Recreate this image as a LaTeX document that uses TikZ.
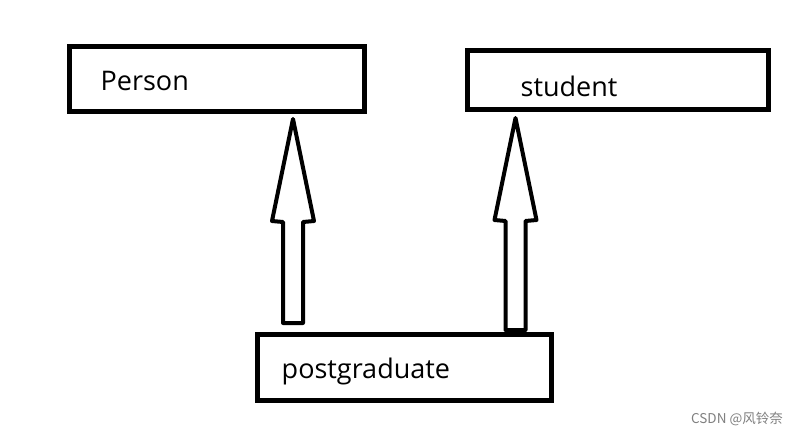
\documentclass[tikz,border=0pt]{standalone}
\usepackage{fontspec}
\setmainfont{Open Sans}
\newfontfamily\cjk{Noto Sans CJK SC}
\usetikzlibrary{calc}
\tikzset{
  box/.style={draw=black, line width=5pt, rectangle, inner sep=0pt},
  lbl/.style={inner sep=0pt, anchor=base west, font=\fontsize{27}{30}\selectfont},
  blockarrow/.style={draw=black, line width=4pt, line join=round, fill=white,
    to path={($(\tikztostart)+(-10,0)$) -- ($(\tikztotarget)+(-10,103)$) -- ($(\tikztotarget)+(-21,102)$) -- (\tikztotarget) -- ($(\tikztotarget)+(21,102)$) -- ($(\tikztotarget)+(10,103)$) -- ($(\tikztostart)+(10,0)$) -- cycle}}
}
\begin{document}
\begin{tikzpicture}[x=1pt,y=-1pt]
\useasboundingbox (0,0) rectangle (800,436);
\fill[white] (0,0) rectangle (800,436);
% boxes
\node[box, minimum width=295pt, minimum height=65pt] (person) at (217,79) {};
\node[box, minimum width=301pt, minimum height=59pt] (student) at (618,80) {};
\node[box, minimum width=294pt, minimum height=66pt] (pg) at (404.5,367.5) {};
% labels
\node[lbl] (tperson) at (100.5,90) {Person};
\node[lbl] (tstudent) at (520.5,96) {student};
\node[lbl] (tpg) at (281.5,378) {postgraduate};
% arrow ends
\coordinate (a1s) at (293,323);
\coordinate (a1t) at (293,119);
\coordinate (a2s) at (515.5,330);
\coordinate (a2t) at (515.5,118);
\draw[blockarrow] (a1s) to (a1t);
\draw[blockarrow] (a2s) to (a2t);
% watermark
\node[inner sep=0pt, anchor=base east, text={rgb,255:red,128;green,128;blue,128}, font=\cjk\fontsize{13.5}{15}\selectfont] (wm) at (783,423) {CSDN @风铃奈};
\end{tikzpicture}
\end{document}
